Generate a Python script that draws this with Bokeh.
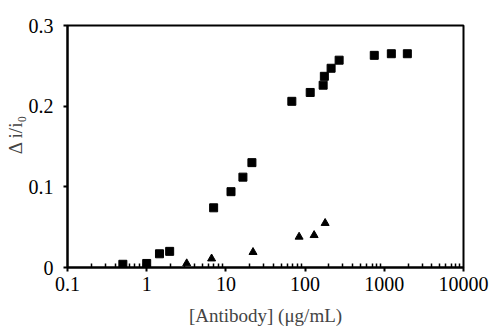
import math
from bokeh.plotting import figure
from bokeh.models import FixedTicker
from bokeh.embed import file_html
from bokeh.resources import INLINE

# Square series
sq_x = [0.5, 1.0, 1.45, 1.95, 7.0, 11.6, 16.4, 21.3, 68, 116, 169, 175, 213, 269, 747, 1227, 1954]
sq_y = [0.004, 0.005, 0.017, 0.020, 0.074, 0.094, 0.112, 0.130, 0.206, 0.217, 0.226, 0.237,
        0.247, 0.257, 0.263, 0.265, 0.265]
# Triangle series
tr_x = [0.5, 1.05, 3.2, 6.6, 22, 84, 130, 179]
tr_y = [0.002, 0.0, 0.005, 0.011, 0.019, 0.038, 0.040, 0.055]

y_ticks = [0, 0.1, 0.2, 0.3]
y_tick_labels = {0: "0", 0.1: "0.1", 0.2: "0.2", 0.3: "0.3"}
x_ticks = [0.1, 1, 10, 100, 1000, 10000]
x_tick_labels = {0.1: "0.1", 1: "1", 10: "10", 100: "100", 1000: "1000", 10000: "10000"}
x_minor = [d * m for d in x_ticks[:-1] for m in range(2, 10)]

FONT = "Liberation Serif"

p = figure(width=494, height=327, x_axis_type="log", x_range=(0.1, 10000), y_range=(0, 0.3),
           output_backend="svg", toolbar_location=None,
           min_border_left=67, min_border_right=31, min_border_top=25, min_border_bottom=60)
p.frame_width = 396
p.frame_height = 242

p.grid.visible = False
p.outline_line_color = "black"
p.outline_line_width = 2
p.background_fill_color = "white"
p.border_fill_color = "white"

xa = p.xaxis[0]
xa.ticker = FixedTicker(ticks=x_ticks, minor_ticks=x_minor)
xa.major_label_overrides = x_tick_labels
xa.axis_line_width = 2
xa.major_tick_line_width = 2
xa.major_tick_out = 4
xa.major_tick_in = 0
xa.minor_tick_in = 4
xa.minor_tick_out = 0
xa.minor_tick_line_width = 1.5
xa.minor_tick_line_color = "black"
xa.major_label_standoff = 5
xa.major_label_text_font = FONT
xa.major_label_text_font_size = "20px"
xa.major_label_text_color = "black"
xa.axis_label = "[Antibody] (\u03bcg/mL)"
xa.axis_label_text_font = FONT
xa.axis_label_text_font_size = "19px"
xa.axis_label_text_font_style = "normal"
xa.axis_label_standoff = 11

ya = p.yaxis[0]
ya.ticker = FixedTicker(ticks=y_ticks)
ya.major_label_overrides = y_tick_labels
ya.axis_line_width = 2
ya.major_tick_line_width = 2
ya.major_tick_out = 4
ya.major_tick_in = 0
ya.minor_tick_out = 0
ya.minor_tick_in = 0
ya.major_label_standoff = 10
ya.major_label_text_font = FONT
ya.major_label_text_font_size = "20px"
ya.major_label_text_color = "black"
ya.axis_label = "\u00a0" * 5 + "\u0394 i/i\u2080"
ya.axis_label_text_font = FONT
ya.axis_label_text_font_size = "19px"
ya.axis_label_text_font_style = "normal"
ya.axis_label_standoff = 0

p.scatter(sq_x, sq_y, marker="square", size=8, color="black")
p.scatter(tr_x, tr_y, marker="triangle", size=8, color="black")

open("out.html", "w").write(file_html(p, INLINE))
